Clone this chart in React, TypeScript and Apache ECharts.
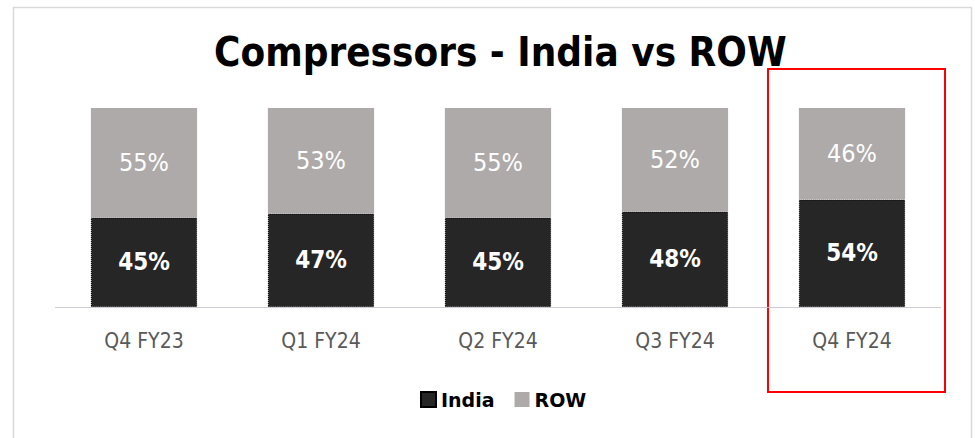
import React, { useEffect, useRef } from "react";
import * as echarts from "echarts";

const categories = ["Q4 FY23", "Q1 FY24", "Q2 FY24", "Q3 FY24", "Q4 FY24"];
const indiaValues = [45, 47, 45, 48, 54];
const rowValues = [55, 53, 55, 52, 46];
const titleText = "Compressors - India vs ROW";

const FONT = "'DejaVu Sans', sans-serif";
const CFONT = "'DejaVu Sans Condensed', 'DejaVu Sans', sans-serif";

export default function App() {
  const ref = useRef<HTMLDivElement>(null);
  useEffect(() => {
    document.body.style.margin = "0";
    const chart = echarts.init(ref.current!, undefined, { renderer: "svg" });
    chart.setOption({
      animation: false,
      backgroundColor: "#ffffff",
      title: {
        text: titleText,
        left: 209,
        top: 27,
        textStyle: { fontFamily: CFONT, fontWeight: "bold", fontSize: 40, color: "#000000" },
      },
      legend: {
        bottom: 24,
        left: 415,
        itemWidth: 15,
        itemHeight: 15,
        itemGap: 20,
        icon: "rect",
        textStyle: { fontFamily: FONT, fontWeight: "bold", fontSize: 19, color: "#000000" },
        data: ["India", "ROW"],
      },
      grid: { left: 55.5, right: 34.5, top: 108, bottom: 131 },
      xAxis: {
        type: "category",
        data: categories,
        axisTick: { show: false },
        axisLine: { lineStyle: { color: "#c8c4d4", type: "dotted", width: 1 } },
        axisLabel: { fontFamily: CFONT, fontSize: 21, color: "#595959", margin: 23 },
      },
      yAxis: {
        type: "value",
        min: 0,
        max: 100,
        show: false,
        splitLine: { show: false },
      },
      series: [
        {
          name: "India",
          type: "bar",
          stack: "total",
          barWidth: "60%",
          data: indiaValues,
          itemStyle: { color: "#262626", borderColor: "#000000", borderWidth: 1, borderType: "dotted" },
          label: {
            show: true,
            position: "inside",
            formatter: "{c}%",
            color: "#ffffff",
            fontFamily: CFONT,
            fontWeight: "bold",
            fontSize: 24,
          },
        },
        {
          name: "ROW",
          type: "bar",
          stack: "total",
          barWidth: "60%",
          data: rowValues,
          itemStyle: { color: "#aeaaaa" },
          label: {
            show: true,
            position: "inside",
            formatter: "{c}%",
            color: "#ffffff",
            fontFamily: CFONT,
            fontWeight: "normal",
            fontSize: 25,
          },
        },
      ],
      graphic: [
        {
          type: "rect",
          shape: { x: 13.5, y: 7.5, width: 958, height: 440 },
          style: { fill: "none", stroke: "#d9d9d9", lineWidth: 1.5 },
          silent: true,
        },
        {
          type: "rect",
          shape: { x: 768, y: 69, width: 177, height: 323 },
          style: { fill: "none", stroke: "#ff0000", lineWidth: 2 },
          silent: true,
        },
      ],
    });
    return () => chart.dispose();
  }, []);
  return <div ref={ref} style={{ width: 975, height: 438 }} />;
}
